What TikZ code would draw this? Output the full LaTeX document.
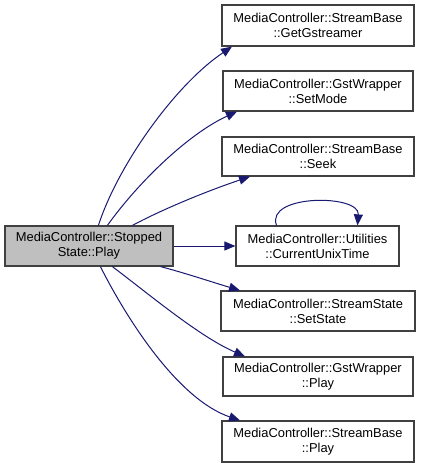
\documentclass[tikz,border=0pt]{standalone}
\usepackage{fontspec}
\setmainfont{Liberation Sans}
\usetikzlibrary{arrows.meta}
\definecolor{edgecol}{HTML}{191970}
\definecolor{boxline}{HTML}{404040}
\definecolor{mainfill}{HTML}{BFBFBF}
\begin{document}
\begin{tikzpicture}[x=1pt,y=-1pt,
  fn/.style={draw=boxline,line width=1.2pt,fill=white,align=center,inner sep=0pt,
    font=\fontsize{12.9}{15}\selectfont,text=black},
  call/.style={draw=edgecol,line width=1pt,-{Triangle[length=11pt,width=9pt]}}]
\useasboundingbox (0,0) rectangle (420,468);
\node[fn,fill=mainfill,minimum width=168pt,minimum height=40pt] (main) at (89,246) {MediaController::Stopped\\State::Play};
\node[fn,minimum width=192pt,minimum height=41pt] (n1) at (318,25.5) {MediaController::StreamBase\\::GetGstreamer};
\node[fn,minimum width=190pt,minimum height=40pt] (n2) at (318,91) {MediaController::GstWrapper\\::SetMode};
\node[fn,minimum width=192pt,minimum height=39pt] (n3) at (318,156.5) {MediaController::StreamBase\\::Seek};
\node[fn,minimum width=163pt,minimum height=40pt] (n4) at (317.5,246) {MediaController::Utilities\\::CurrentUnixTime};
\node[fn,minimum width=194pt,minimum height=40pt] (n5) at (318,311) {MediaController::StreamState\\::SetState};
\node[fn,minimum width=190pt,minimum height=39pt] (n6) at (318,376.5) {MediaController::GstWrapper\\::Play};
\node[fn,minimum width=192pt,minimum height=41pt] (n7) at (318,441.5) {MediaController::StreamBase\\::Play};

\draw[call] ([xshift=94pt]main.north west) .. controls (118,165) and (175,85) .. ([xshift=-86pt]n1.south);
\draw[call] ([xshift=103pt]main.north west) .. controls (140,180) and (190,133) .. ([xshift=-81pt]n2.south);
\draw[call] ([xshift=128pt]main.north west) .. controls (165,208) and (210,190) .. ([xshift=-68pt]n3.south);
\draw[call] (main.east) -- (n4.west);
\draw[call] ([xshift=-41pt]n4.north) .. controls (265,194) and (360,194) .. ([xshift=40pt]n4.north);
\draw[call] ([xshift=-13pt]main.south east) .. controls (185,273) and (215,283) .. ([xshift=-78pt]n5.north);
\draw[call] ([xshift=108pt]main.south west) .. controls (150,295) and (200,337) .. ([xshift=-73pt]n6.north);
\draw[call] ([xshift=96pt]main.south west) .. controls (130,325) and (180,400) .. ([xshift=-78pt]n7.north);
\end{tikzpicture}
\end{document}
